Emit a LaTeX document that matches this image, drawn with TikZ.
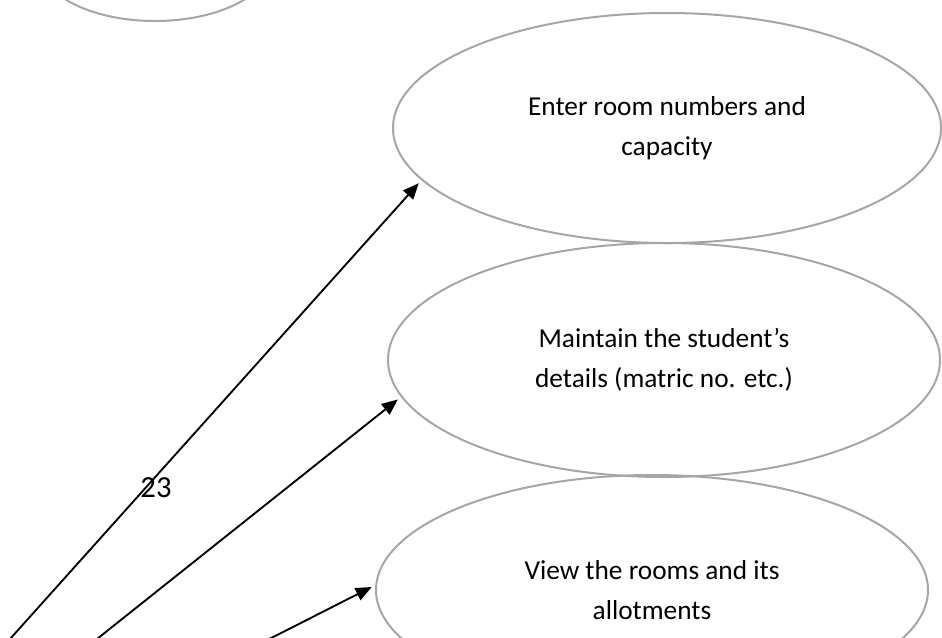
\documentclass[tikz,border=0pt]{standalone}
\usepackage{fontspec}
\setmainfont{Carlito}
\usetikzlibrary{shapes.geometric,arrows.meta}
\definecolor{casegray}{RGB}{166,166,166}
\tikzset{
  usecase/.style={ellipse, draw=casegray, line width=1.5pt, align=center, inner sep=0pt,
    font=\fontsize{20.5}{30}\selectfont},
  link/.style={-{Triangle[length=12pt,width=10pt]}, line width=1.4pt, shorten >=3pt}
}
\begin{document}
\begin{tikzpicture}[x=0.75pt, y=-0.75pt]
  \useasboundingbox (0,0) rectangle (942,637);
  \clip (0,0) rectangle (942,637);
  % use cases
  \node[usecase, minimum width=175pt, minimum height=90pt] (login) at (155,-39) {};
  \node[usecase, minimum width=411pt, minimum height=172.5pt] (rooms) at (667,128) {Enter room numbers and\\capacity};
  \node[usecase, minimum width=414pt, minimum height=175.5pt] (details) at (664,360) {Maintain the student’s\\details (matric no. etc.)};
  \node[usecase, minimum width=414pt, minimum height=172.5pt] (allot) at (652,590) {View the rooms and its\\allotments};
  \node[font=\fontsize{23}{28}\selectfont] (page) at (156,488) {23};
  % actor (off the page)
  \coordinate (warden) at (-207,881);
  \draw[link] (warden) -- (rooms.192);
  \draw[link] (warden) -- (details.188);
  \draw[link] (warden) -- (allot.179);
\end{tikzpicture}
\end{document}
